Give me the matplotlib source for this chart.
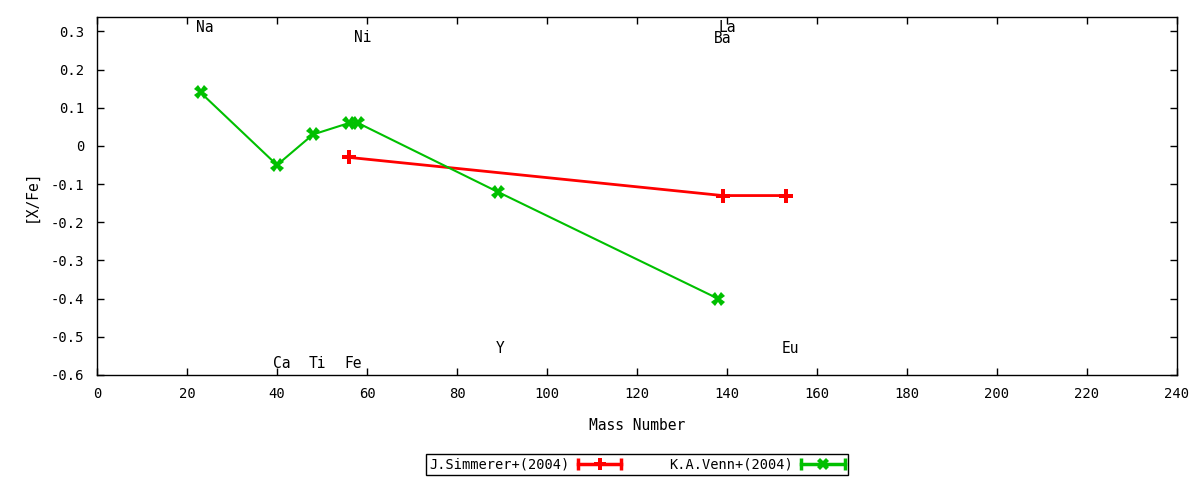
import matplotlib
matplotlib.use("Agg")
import matplotlib.pyplot as plt
from matplotlib.lines import Line2D
from matplotlib.legend_handler import HandlerBase

plt.rcParams['font.family'] = ['DejaVu Sans Mono']
plt.rcParams['font.size'] = 10

# J.Simmerer+(2004)
simmerer_mass = [56, 139, 153]
simmerer_xfe = [-0.03, -0.13, -0.13]

# K.A.Venn+(2004)
venn_mass = [23, 40, 48, 56, 58, 89, 138]
venn_xfe = [0.14, -0.05, 0.03, 0.06, 0.06, -0.12, -0.40]

# element labels: name, x, y
elem_names = ["Na", "Ni", "La", "Ba", "Ca", "Ti", "Fe", "Y", "Eu"]
elem_x = [24, 59, 140, 139, 41, 49, 57, 89.5, 154]
elem_y = [0.309, 0.283, 0.311, 0.281, -0.571, -0.571, -0.571, -0.531, -0.531]

red = "#ff0000"
green = "#00c000"


class ErrLineHandler(HandlerBase):
    # gnuplot style sample: line with end caps and the point in the middle
    def __init__(self, color, marker, ms, mew):
        super().__init__()
        self.color = color
        self.marker = marker
        self.ms = ms
        self.mew = mew

    def create_artists(self, legend, orig_handle, xdescent, ydescent,
                       width, height, fontsize, trans):
        y = height / 2 - ydescent
        x0 = -xdescent
        x1 = width - xdescent
        ln = Line2D([x0, x1], [y, y], color=self.color, lw=2.5,
                    marker="|", ms=9, mew=2.5, transform=trans)
        pt = Line2D([(x0 + x1) / 2], [y], color=self.color, lw=0,
                    marker=self.marker, ms=self.ms, mew=self.mew,
                    transform=trans)
        return [ln, pt]


fig = plt.figure(figsize=(12, 4.8), dpi=100)
ax = fig.add_axes([97 / 1200, 1 - 375 / 480, 1080 / 1200, 358 / 480])

l1, = ax.plot(simmerer_mass, simmerer_xfe, color=red, lw=2, marker="P",
              ms=10, mew=0, label="J.Simmerer+(2004)")
l2, = ax.plot(venn_mass, venn_xfe, color=green, lw=1.5, marker="X",
              ms=10, mew=0, label="K.A.Venn+(2004)")

for name, x, y in zip(elem_names, elem_x, elem_y):
    ax.text(x, y, name, ha="center", va="center", fontsize=10.5)

ax.set_xlim(0, 240)
ax.set_ylim(-0.6, 0.3377)
ax.set_xticks(range(0, 241, 20))
ax.set_yticks([0.3, 0.2, 0.1, 0, -0.1, -0.2, -0.3, -0.4, -0.5, -0.6])
ax.set_yticklabels(["0.3", "0.2", "0.1", "0", "-0.1", "-0.2", "-0.3",
                    "-0.4", "-0.5", "-0.6"])
ax.tick_params(direction="in", top=True, right=True, length=5, width=1,
               labelsize=10, pad=9)
ax.set_xlabel("Mass Number", fontsize=10.5, labelpad=12)
ax.set_ylabel("[X/Fe]", fontsize=10.5, labelpad=9)
for s in ax.spines.values():
    s.set_linewidth(1)

leg = ax.legend([l1, l2], ["J.Simmerer+(2004)", "K.A.Venn+(2004)"],
                handler_map={l1: ErrLineHandler(red, "P", 8, 0),
                             l2: ErrLineHandler(green, "X", 8, 0)},
                loc="center", bbox_to_anchor=(0.5, -0.251), ncol=2,
                markerfirst=False, fancybox=False, edgecolor="black",
                framealpha=1, fontsize=9.8, handlelength=3.2,
                columnspacing=3.5, borderpad=0.25, handletextpad=0.6)
leg.get_frame().set_linewidth(1)

fig.savefig("out.png", dpi=100)
